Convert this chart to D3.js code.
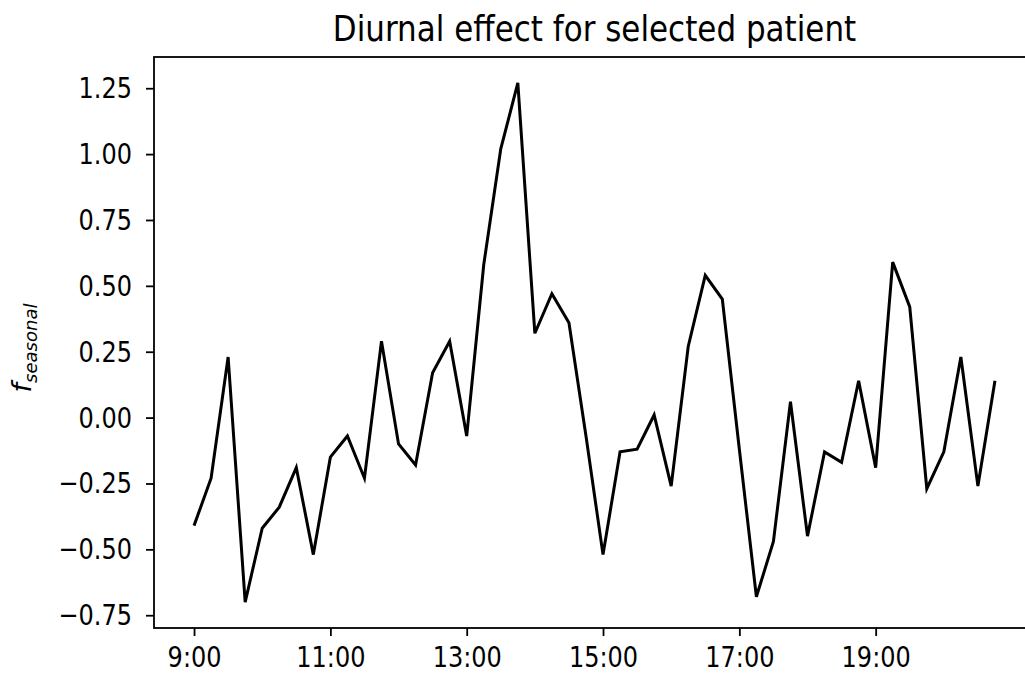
<!DOCTYPE html>
<html>
<head>
<meta charset="utf-8">
<script src="https://cdn.jsdelivr.net/npm/d3@7"></script>
<style>
  html, body { margin: 0; padding: 0; background: #fff; }
  svg { display: block; }
  text { font-family: "DejaVu Sans", sans-serif; fill: #000; }
</style>
</head>
<body>
<svg id="chart" width="1025" height="673"></svg>
<script>
// ---- data ----
const times = ["9:00","9:15","9:30","9:45","10:00","10:15","10:30","10:45",
  "11:00","11:15","11:30","11:45","12:00","12:15","12:30","12:45",
  "13:00","13:15","13:30","13:45","14:00","14:15","14:30","14:45",
  "15:00","15:15","15:30","15:45","16:00","16:15","16:30","16:45",
  "17:00","17:15","17:30","17:45","18:00","18:15","18:30","18:45",
  "19:00","19:15","19:30","19:45","20:00","20:15","20:30","20:45"];
const seasonal = [-0.41,-0.23,0.23,-0.70,-0.42,-0.34,-0.19,-0.52,
  -0.15,-0.07,-0.23,0.29,-0.10,-0.18,0.17,0.29,
  -0.07,0.58,1.02,1.27,0.32,0.47,0.36,-0.07,
  -0.52,-0.13,-0.12,0.01,-0.26,0.27,0.54,0.45,
  -0.12,-0.68,-0.47,0.06,-0.45,-0.13,-0.17,0.14,
  -0.19,0.59,0.42,-0.27,-0.13,0.23,-0.26,0.14];
const xTickLabels = ["9:00","11:00","13:00","15:00","17:00","19:00"];
const yTicks = [-0.75,-0.50,-0.25,0.00,0.25,0.50,0.75,1.00,1.25];
const title = "Diurnal effect for selected patient";

// ---- helpers ----
const toMin = s => { const [h,m] = s.split(":").map(Number); return h*60+m; };
const data = times.map((t,i) => ({x: toMin(t), y: seasonal[i]}));

const svg = d3.select("#chart");
svg.append("rect").attr("width",1025).attr("height",673).attr("fill","#fff");

const L = 154, R = 1035, T = 57, B = 628;
const SY = 1.21; // vertical stretch of the reference's text

const xExt = d3.extent(data, d => d.x);
const xPad = (xExt[1]-xExt[0])*0.05;
const x = d3.scaleLinear().domain([xExt[0]-xPad, xExt[1]+xPad]).range([L, R]);

const yExt = d3.extent(data, d => d.y);
const yPad = (yExt[1]-yExt[0])*0.05;
const y = d3.scaleLinear().domain([yExt[0]-yPad, yExt[1]+yPad]).range([B, T]);

// line
const line = d3.line().x(d => x(d.x)).y(d => y(d.y));
svg.append("path").datum(data)
  .attr("d", line)
  .attr("fill","none")
  .attr("stroke","#000")
  .attr("stroke-width",3)
  .attr("stroke-linejoin","miter");

// axes
const fmtY = v => d3.format(".2f")(v).replace("-", "\u2212");
const yAxis = d3.axisLeft(y).tickValues(yTicks).tickFormat(fmtY).tickSize(8).tickPadding(8);
const xAxis = d3.axisBottom(x).tickValues(xTickLabels.map(toMin))
  .tickFormat((d,i) => xTickLabels[i]).tickSize(8).tickPadding(8);

const gy = svg.append("g").attr("transform",`translate(${L},0)`).call(yAxis);
const gx = svg.append("g").attr("transform",`translate(0,${B})`).call(xAxis);
[gx, gy].forEach(g => {
  g.select(".domain").remove();
  g.selectAll(".tick line").attr("stroke","#000").attr("stroke-width",1.8);
  g.selectAll(".tick text").attr("font-size","24px").attr("fill","#000")
    .attr("font-family","'DejaVu Sans', sans-serif");
});
gy.selectAll(".tick text")
  .attr("x",0).attr("y",0).attr("dy",null)
  .attr("transform",`translate(-22,9.5) scale(1,${SY})`);
gx.selectAll(".tick text")
  .attr("x",0).attr("y",0).attr("dy",null)
  .attr("transform",`translate(0,39) scale(1,${SY})`);

// spines
svg.append("rect").attr("x",L).attr("y",T).attr("width",R-L).attr("height",B-T)
  .attr("fill","none").attr("stroke","#000").attr("stroke-width",1.8);

// title
svg.append("text")
  .attr("transform",`translate(${(L+R)/2},41) scale(1,1.12)`)
  .attr("text-anchor","middle").attr("font-size","31px").text(title);

// y label: f_seasonal (math italic)
const yl = svg.append("text")
  .attr("transform",`translate(31,348) rotate(-90)`)
  .attr("text-anchor","middle")
  .attr("font-style","italic");
yl.append("tspan").attr("font-size","27px").text("f");
yl.append("tspan").attr("font-size","18px").attr("dy","6").text("seasonal");
</script>
</body>
</html>
